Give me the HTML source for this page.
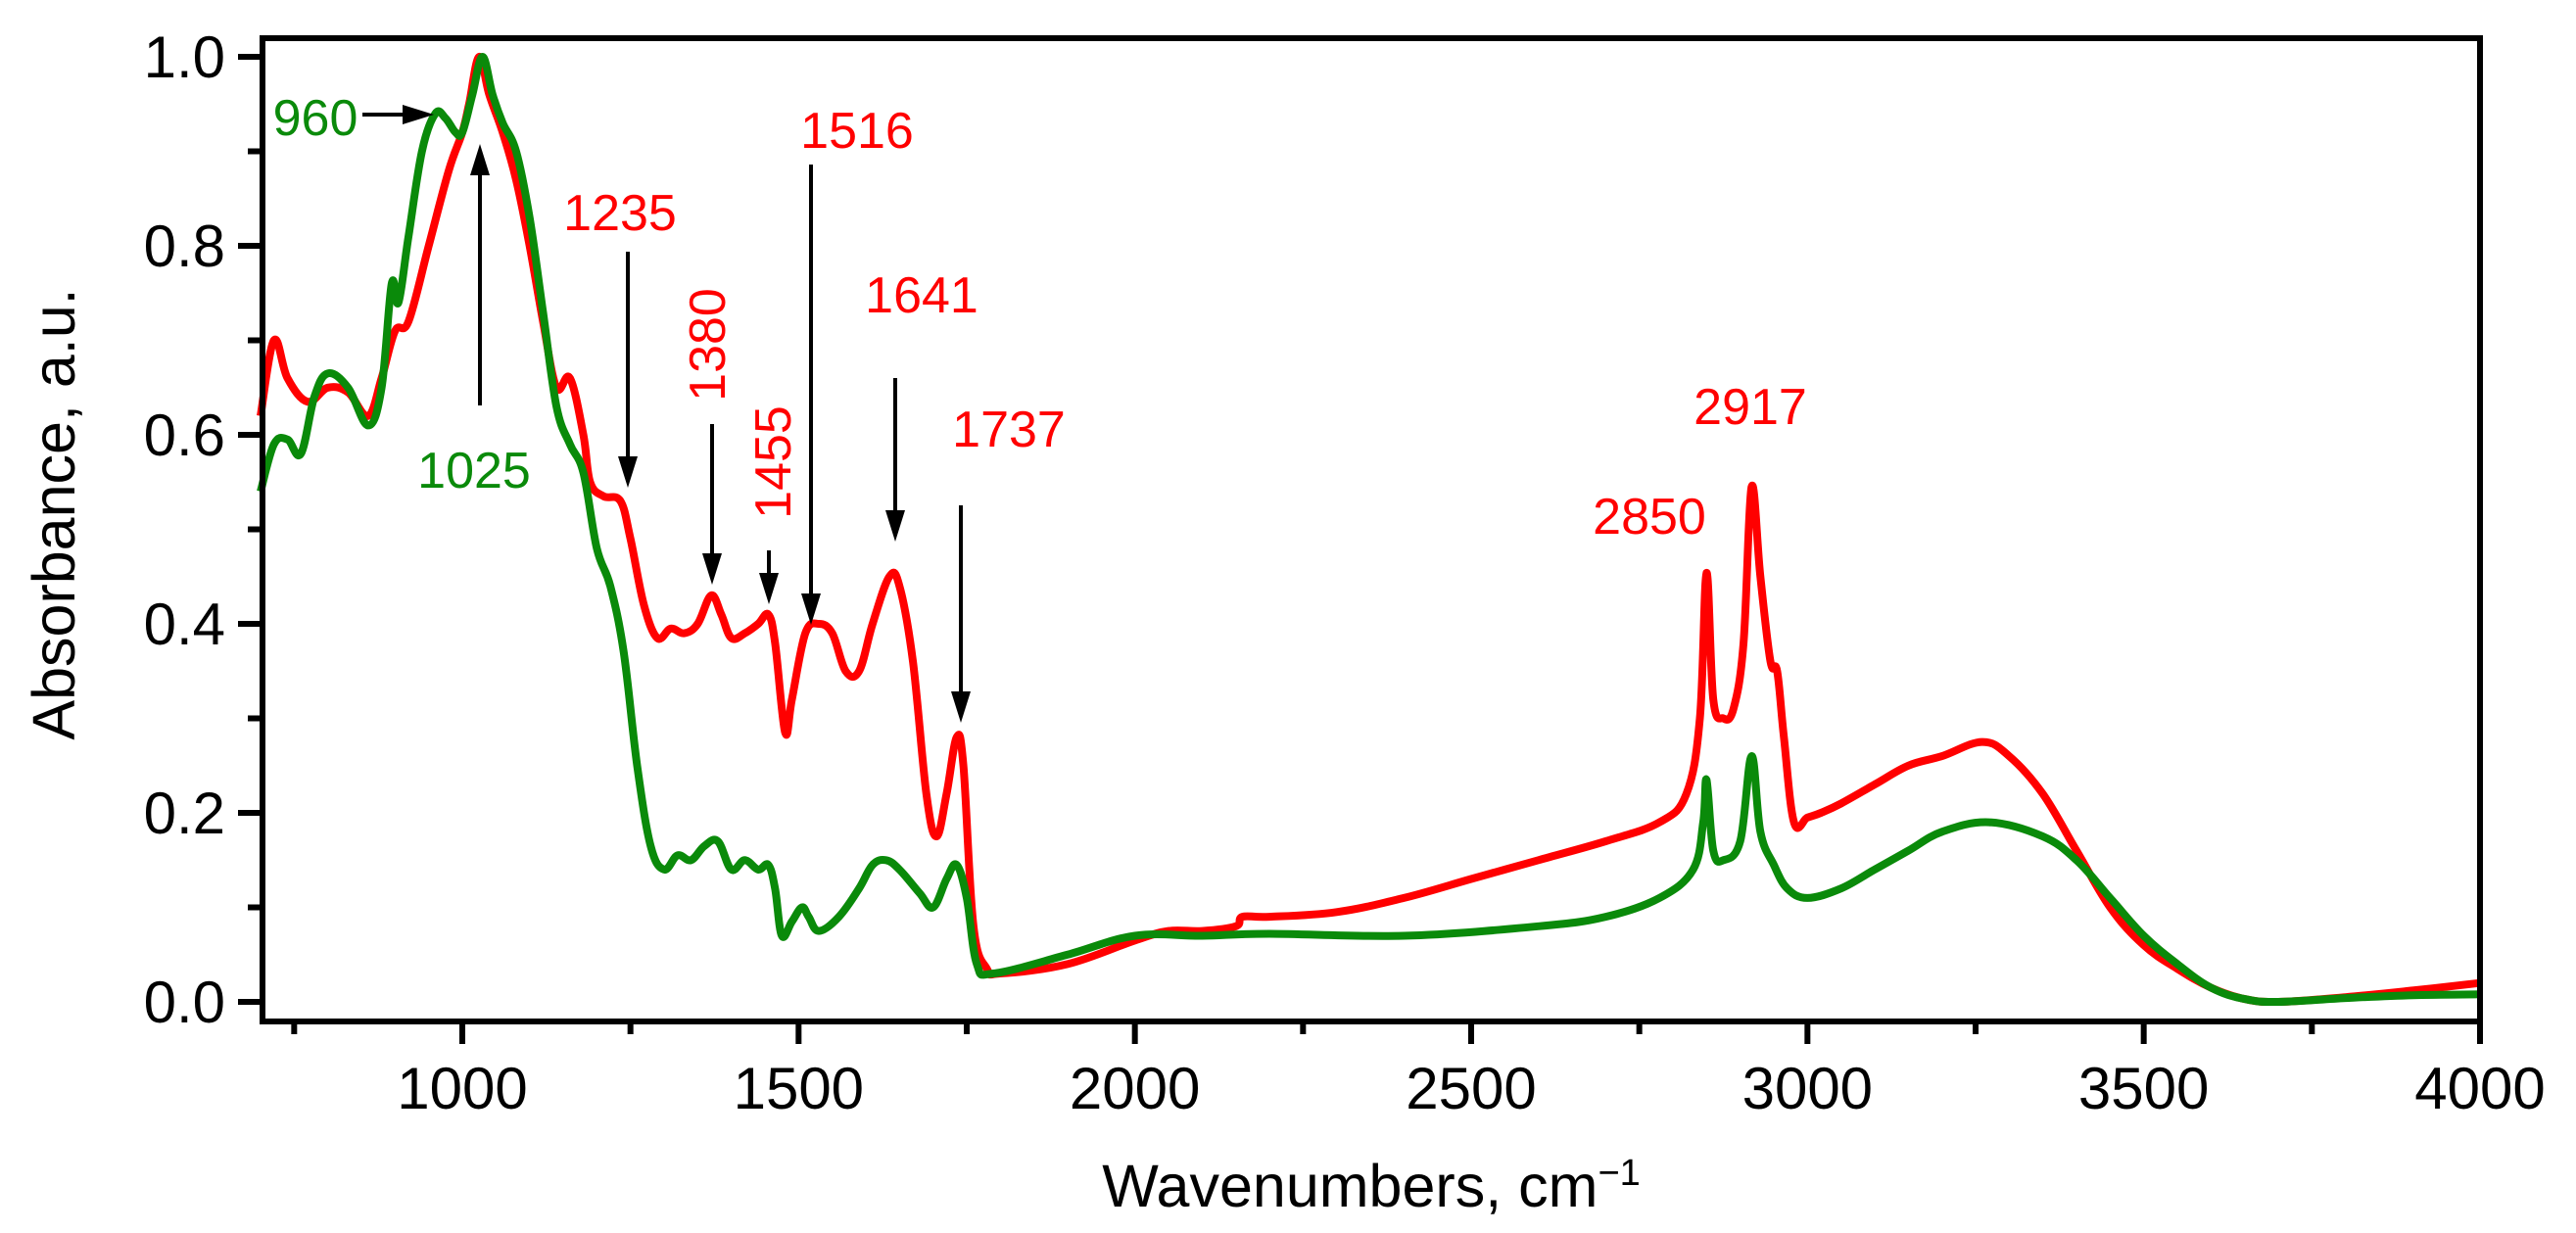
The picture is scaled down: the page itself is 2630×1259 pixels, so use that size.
<!DOCTYPE html>
<html><head><meta charset="utf-8"><style>
html,body{margin:0;padding:0;background:#fff;}
svg{display:block;font-family:"Liberation Sans",Arial,sans-serif;}
</style></head><body>
<svg id="chart" width="2630" height="1259" viewBox="0 0 2630 1259" xmlns="http://www.w3.org/2000/svg">
<g id="plot"></g>
<g id="axes"></g>
<g id="ann"></g>
</svg>
<script>
const xTicks = [1000, 1500, 2000, 2500, 3000, 3500, 4000];
const xMinor = [750, 1250, 1750, 2250, 2750, 3250, 3750];
const yTicks = [0.0, 0.2, 0.4, 0.6, 0.8, 1.0];
const yTickLabels = ["0.0","0.2","0.4","0.6","0.8","1.0"];
const yMinor = [0.1, 0.3, 0.5, 0.7, 0.9];
const redWn = [700,720,740,770,800,830,860,880,900,920,950,980,1000,1010,1025,1040,1060,1080,1100,1120,1140,1160,1180,1190,1210,1235,1250,1270,1290,1310,1330,1350,1370,1385,1400,1420,1440,1455,1465,1480,1490,1510,1530,1550,1570,1590,1610,1635,1650,1670,1690,1705,1720,1735,1745,1760,1780,1800,1900,2000,2050,2100,2150,2160,2200,2300,2400,2500,2600,2700,2780,2820,2840,2850,2860,2875,2890,2905,2917,2930,2945,2955,2965,2980,3000,3020,3050,3100,3150,3200,3260,3300,3350,3400,3450,3500,3550,3600,3650,3700,3800,3900,4000];
const redAbs = [0.62,0.70,0.66,0.635,0.65,0.645,0.62,0.66,0.71,0.72,0.80,0.88,0.92,0.95,1.0,0.96,0.92,0.87,0.80,0.72,0.65,0.66,0.60,0.55,0.535,0.53,0.49,0.42,0.385,0.395,0.39,0.40,0.43,0.41,0.385,0.39,0.40,0.41,0.38,0.285,0.32,0.39,0.40,0.39,0.35,0.35,0.40,0.45,0.44,0.36,0.22,0.175,0.22,0.28,0.25,0.08,0.035,0.03,0.04,0.065,0.075,0.075,0.08,0.09,0.09,0.095,0.11,0.13,0.15,0.17,0.19,0.22,0.30,0.454,0.32,0.30,0.31,0.38,0.545,0.45,0.36,0.35,0.28,0.19,0.195,0.20,0.21,0.23,0.25,0.26,0.275,0.26,0.22,0.16,0.10,0.06,0.035,0.015,0.003,0.0,0.005,0.012,0.02];
const greenWn = [700,720,740,760,780,800,830,860,880,895,905,920,940,960,975,990,1000,1015,1030,1045,1060,1080,1100,1120,1140,1160,1180,1200,1220,1240,1260,1280,1300,1320,1340,1360,1380,1400,1420,1440,1455,1465,1475,1490,1505,1515,1530,1560,1590,1610,1630,1650,1680,1700,1720,1735,1750,1765,1790,1900,2000,2100,2200,2400,2600,2700,2780,2830,2845,2850,2860,2875,2900,2917,2930,2950,2970,3000,3050,3100,3150,3200,3270,3350,3400,3450,3500,3550,3600,3650,3700,3800,3900,4000];
const greenAbs = [0.54,0.59,0.595,0.58,0.64,0.665,0.65,0.61,0.65,0.76,0.74,0.81,0.90,0.94,0.935,0.92,0.92,0.96,1.0,0.96,0.93,0.90,0.83,0.73,0.63,0.59,0.56,0.48,0.44,0.37,0.25,0.165,0.14,0.155,0.15,0.165,0.17,0.14,0.15,0.14,0.145,0.12,0.07,0.085,0.10,0.09,0.075,0.09,0.12,0.145,0.15,0.14,0.115,0.10,0.13,0.145,0.11,0.04,0.03,0.05,0.07,0.07,0.072,0.07,0.08,0.09,0.11,0.14,0.19,0.235,0.16,0.15,0.17,0.26,0.18,0.145,0.12,0.11,0.12,0.14,0.16,0.18,0.19,0.175,0.15,0.11,0.07,0.04,0.015,0.003,0.0,0.004,0.007,0.008];
const peakLabels = ["960","1025","1235","1380","1455","1516","1641","1737","2850","2917"];

const NS="http://www.w3.org/2000/svg";
const X0=266, X1=2532, Y0=1023, Y1=58;
function sx(w){return X0+(w-700)/(4000-700)*(X1-X0);}
function sy(v){return Y0-v*(Y0-Y1);}
function mk(tag,attrs,parent,txt){const e=document.createElementNS(NS,tag);for(const k in attrs)e.setAttribute(k,attrs[k]);if(txt!==undefined)e.textContent=txt;parent.appendChild(e);return e;}
const plot=document.getElementById('plot'),axes=document.getElementById('axes'),ann=document.getElementById('ann');

function pathFrom(ws,vs){
  const p=ws.map((w,i)=>[sx(w),sy(vs[i])]);
  let d="M"+p[0][0].toFixed(1)+","+p[0][1].toFixed(1);
  for(let i=0;i<p.length-1;i++){
    const p0=p[i-1]||p[i],p1=p[i],p2=p[i+1],p3=p[i+2]||p2;
    const t=0.18;
    const c1=[p1[0]+(p2[0]-p0[0])*t,p1[1]+(p2[1]-p0[1])*t];
    const c2=[p2[0]-(p3[0]-p1[0])*t,p2[1]-(p3[1]-p1[1])*t];
    d+=" C"+c1[0].toFixed(1)+","+c1[1].toFixed(1)+" "+c2[0].toFixed(1)+","+c2[1].toFixed(1)+" "+p2[0].toFixed(1)+","+p2[1].toFixed(1);
  }
  return d;
}
const red=mk('path',{d:pathFrom(redWn,redAbs),fill:'none',stroke:'#ff0000','stroke-width':8,'stroke-linejoin':'round'},plot);


const grn=mk('path',{d:pathFrom(greenWn,greenAbs),fill:'none',stroke:'#0a8a0a','stroke-width':8,'stroke-linejoin':'round'},plot);



const fr=mk('rect',{x:268,y:39,width:2264,height:1004,fill:'none',stroke:'#000','stroke-width':6},axes);


xTicks.forEach(w=>{
  const t=mk('line',{x1:sx(w),x2:sx(w),y1:1043,y2:1066,stroke:'#000','stroke-width':6},axes);
  
  
  const l=mk('text',{x:sx(w),y:1132,'font-size':60,'text-anchor':'middle',fill:'#000'},axes,String(w));
  
  
});
xMinor.forEach(w=>{
  const t=mk('line',{x1:sx(w),x2:sx(w),y1:1043,y2:1056,stroke:'#000','stroke-width':6},axes);
  
  
});
yTicks.forEach((v,i)=>{
  const t=mk('line',{x1:243,x2:268,y1:sy(v),y2:sy(v),stroke:'#000','stroke-width':6},axes);
  
  
  const l=mk('text',{x:230,y:sy(v)+21,'font-size':60,'text-anchor':'end',fill:'#000'},axes,yTickLabels[i]);
  
  
});
yMinor.forEach(v=>{
  const t=mk('line',{x1:253,x2:268,y1:sy(v),y2:sy(v),stroke:'#000','stroke-width':6},axes);
  
  
});
const xt=mk('text',{x:1400,y:1232,'font-size':61,'text-anchor':'middle',fill:'#000'},axes);


xt.innerHTML='Wavenumbers, cm<tspan dy="-22" font-size="38">−1</tspan>';
const yt=mk('text',{x:0,y:0,'font-size':61,'text-anchor':'middle',fill:'#000',transform:'translate(76,525) rotate(-90)'},axes,'Absorbance, a.u.');



function arrow(x1,y1,x2,y2){
  const g=mk('g',{},ann);
  
  
  const dx=x2-x1,dy=y2-y1,L=Math.hypot(dx,dy),ux=dx/L,uy=dy/L,h=Math.min(32,L*0.6),wd=10;
  const bx=x2-ux*h,by=y2-uy*h;
  mk('line',{x1:x1,y1:y1,x2:bx,y2:by,stroke:'#000','stroke-width':4},g);
  mk('polygon',{points:`${x2},${y2} ${bx-uy*wd},${by+ux*wd} ${bx+uy*wd},${by-ux*wd}`,fill:'#000'},g);
}
function lab(txt,x,y,col,rot){
  const a={x:x,y:y,'font-size':52,'text-anchor':'middle',fill:col};
  if(rot)a.transform=`rotate(-90 ${x} ${y})`;
  const t=mk('text',a,ann,txt);
  
  
}
const G='#0a8a0a',R='#ff0000';
lab(peakLabels[0],322,138,G); arrow(370,117,443,117);
lab(peakLabels[1],484,498,G); arrow(490,414,490,147);
lab(peakLabels[2],633,235,R); arrow(641,257,641,498);
lab(peakLabels[3],740,352,R,true); arrow(727,433,727,597);
lab(peakLabels[4],807,472,R,true); arrow(785,562,785,617);
lab(peakLabels[5],875,151,R); arrow(828,168,828,638);
lab(peakLabels[6],941,319,R); arrow(914,386,914,553);
lab(peakLabels[7],1030,456,R); arrow(981,516,981,738);
lab(peakLabels[8],1684,545,R);
lab(peakLabels[9],1787,433,R);
</script>
</body></html>
